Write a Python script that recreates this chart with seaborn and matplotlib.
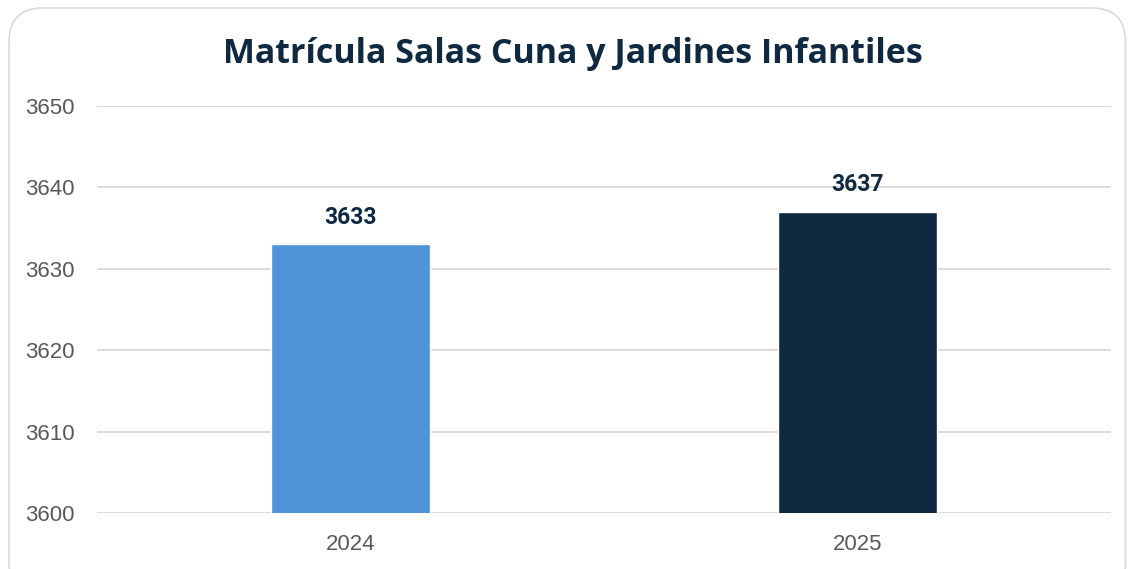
import pandas as pd
import matplotlib.pyplot as plt
import seaborn as sns
from matplotlib.patches import FancyBboxPatch

# Chart data
years = ['2024', '2025']
enrollment = [3633, 3637]
bar_colors = ['#4F94D9', '#0F2940']
y_ticks = [3600, 3610, 3620, 3630, 3640, 3650]
title_text = 'Matrícula Salas Cuna y Jardines Infantiles'

df = pd.DataFrame({'Año': years, 'Matrícula': enrollment})

sns.set_theme(style='white')
plt.rcParams['font.family'] = ['Liberation Sans', 'DejaVu Sans']

fig = plt.figure(figsize=(11.3, 5.69), dpi=100)
ax = fig.add_axes([0.0858, 0.0984, 0.8972, 0.7153])

sns.barplot(data=df, x='Año', y='Matrícula', hue='Año', palette=bar_colors,
            width=0.314, legend=False, ax=ax, zorder=3, saturation=1)

ax.set_ylim(3600, 3650)
ax.set_xlim(-0.5, 1.5)
ax.set_yticks(y_ticks)
ax.yaxis.grid(True, color='#D9D9D9', linewidth=1.3, zorder=0)
ax.set_axisbelow(True)
for s in ax.spines.values():
    s.set_visible(False)
ax.set_xlabel('')
ax.set_ylabel('')
ax.tick_params(axis='y', length=0, pad=16, labelsize=16, labelcolor='#595959')
ax.tick_params(axis='x', length=0, pad=15, labelsize=16, labelcolor='#595959')

# value labels above the bars
for i, v in enumerate(enrollment):
    ax.annotate(str(v), xy=(i, v), xytext=(0, 19.5), textcoords='offset points',
                ha='center', va='center', fontsize=16.5, fontweight='bold',
                color='#0F2940', family=['Roboto', 'DejaVu Sans'])

fig.text(0.507, 0.905, title_text, ha='center', va='center', fontsize=24.5,
         fontweight='bold', color='#0F2940', family=['Open Sans', 'DejaVu Sans'])

# rounded frame around the chart
frame = FancyBboxPatch((0.008, -0.05), 0.988, 1.036,
                       boxstyle='round,pad=0,rounding_size=0.03',
                       transform=fig.transFigure, facecolor='none',
                       edgecolor='#D9D9D9', linewidth=1.2, mutation_aspect=1.99)
fig.patches.append(frame)

plt.savefig('out.png', dpi=100)
